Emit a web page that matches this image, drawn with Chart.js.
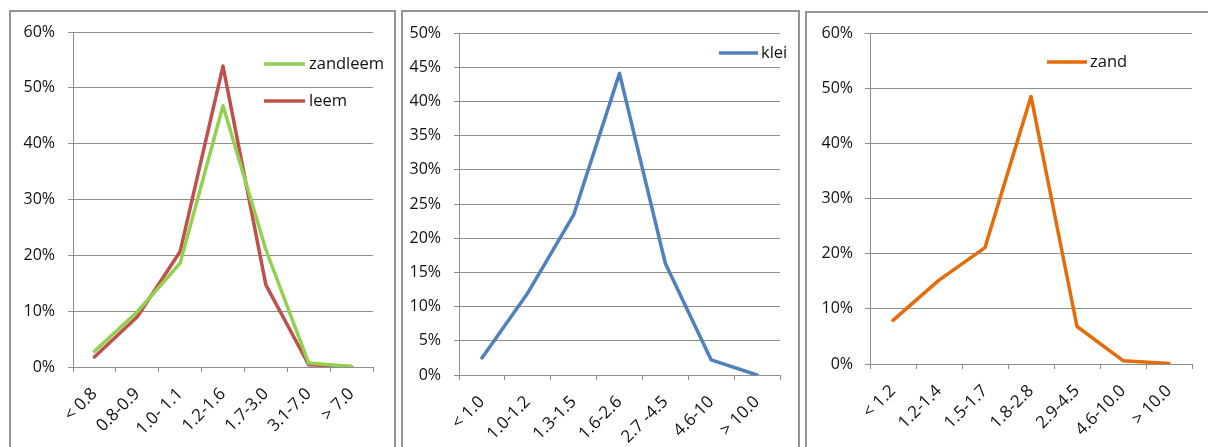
<!DOCTYPE html>
<html>
<head>
<meta charset="utf-8">
<script src="https://cdn.jsdelivr.net/npm/chart.js@4.4.1/dist/chart.umd.min.js"></script>
<style>
  html, body { margin: 0; padding: 0; background: #fff; }
  #wrap { position: relative; width: 1208px; height: 447px; overflow: hidden; }
  .frame { position: absolute; border: 2px solid #959595; box-sizing: border-box; }
  canvas { position: absolute; left: 0; top: 0; }
</style>
</head>
<body>
<div id="wrap">
  <div class="frame" style="left:9px;top:10px;width:387px;height:470px"></div>
  <div class="frame" style="left:401px;top:10px;width:399px;height:470px"></div>
  <div class="frame" style="left:805px;top:11px;width:420px;height:470px"></div>
  <canvas id="c1" width="1208" height="447"></canvas>
  <canvas id="c2" width="1208" height="447"></canvas>
  <canvas id="c3" width="1208" height="447"></canvas>
</div>
<script>
// Density classes (g/cm³) and share of samples per class, in percent
const loamClasses = ['< 0.8', '0.8-0.9', '1.0- 1.1', '1.2-1.6', '1.7-3.0', '3.1-7.0', '> 7.0'];
const zandleemPct = [2.8, 9.9, 18.6, 46.8, 21.0, 0.7, 0.1];
const leemPct     = [1.8, 9.0, 20.7, 53.9, 14.7, 0.4, 0.1];

const clayClasses = ['< 1.0', '1.0-1.2', '1.3-1.5', '1.6-2.6', '2.7 -4.5', '4.6-10', '> 10.0'];
const kleiPct     = [2.5, 12.0, 23.4, 44.1, 16.3, 2.2, 0.0];

const sandClasses = ['< 1.2', '1.2-1.4', '1.5-1.7', '1.8-2.8', '2.9-4.5', '4.6-10.0', '> 10.0'];
const zandPct     = [7.9, 15.2, 21.1, 48.5, 6.8, 0.6, 0.1];

// Value axis ranges (percent) for the three panels
const loamAxis = { max: 60, step: 10 };
const clayAxis = { max: 50, step: 5 };
const sandAxis = { max: 60, step: 10 };

const W = 1208, H = 447;
const GRID = '#8e8e8e';
const TEXT = '#111111';
const FAMILY = "'Open Sans', 'Liberation Sans', sans-serif";
const Y_FONT = { family: FAMILY, size: 16 };
const X_FONT = { family: FAMILY, size: 17 };
const LEGEND_FONT_SIZE = 16.5;

// Legend drawn inside the plot area: a short line sample followed by the series name
const insideLegend = {
  id: 'insideLegend',
  afterDatasetsDraw(chart, args, opts) {
    const ctx = chart.ctx;
    ctx.save();
    ctx.font = `${LEGEND_FONT_SIZE}px ${FAMILY}`;
    ctx.textBaseline = 'middle';
    ctx.textAlign = 'left';
    chart.data.datasets.forEach((ds, i) => {
      const y = opts.y + i * opts.rowGap;
      ctx.strokeStyle = ds.borderColor;
      ctx.lineWidth = 3.5;
      ctx.beginPath();
      ctx.moveTo(opts.x, y);
      ctx.lineTo(opts.x + opts.lineLen, y);
      ctx.stroke();
      ctx.fillStyle = TEXT;
      ctx.fillText(ds.label, opts.x + opts.lineLen + opts.gap, y);
    });
    ctx.restore();
  }
};

function makeChart(id, labels, series, area, axis, legend) {
  return new Chart(document.getElementById(id), {
    type: 'line',
    data: {
      labels: labels,
      datasets: series.map(s => ({
        label: s.label,
        data: s.data,
        borderColor: s.color,
        backgroundColor: s.color,
        borderWidth: 3.5,
        pointRadius: 0,
        pointHoverRadius: 0,
        tension: 0,
        fill: false,
        borderJoinStyle: 'round',
        borderCapStyle: 'round'
      }))
    },
    options: {
      responsive: false,
      animation: false,
      devicePixelRatio: 1,
      layout: { padding: { left: 0, right: W - area.right, top: area.top, bottom: 0 } },
      plugins: {
        legend: { display: false },
        tooltip: { enabled: false },
        insideLegend: legend
      },
      scales: {
        x: {
          offset: true,
          grid: { offset: true, drawOnChartArea: false, tickLength: 5, color: GRID },
          border: { color: GRID },
          ticks: { autoSkip: false, maxRotation: 45, minRotation: 45, padding: 12, font: X_FONT, color: TEXT },
          afterFit(scale) { scale.height = H - area.bottom; }
        },
        y: {
          min: 0,
          max: axis.max,
          grid: { color: GRID, tickLength: 5 },
          border: { color: GRID },
          ticks: { stepSize: axis.step, padding: area.labelGap, font: Y_FONT, color: TEXT,
                   callback: v => v + '%' },
          afterFit(scale) { scale.width = area.left; }
        }
      }
    },
    plugins: [insideLegend]
  });
}

makeChart('c1', loamClasses,
  [ { label: 'zandleem', data: zandleemPct, color: '#92D050' },
    { label: 'leem', data: leemPct, color: '#C0504D' } ],
  { left: 73, right: 373, top: 32, bottom: 367, labelGap: 13 }, loamAxis,
  { x: 264, y: 64, rowGap: 37, lineLen: 41, gap: 4 });

makeChart('c2', clayClasses,
  [ { label: 'klei', data: kleiPct, color: '#4F81BD' } ],
  { left: 459, right: 780, top: 33, bottom: 375, labelGap: 13 }, clayAxis,
  { x: 719, y: 53, rowGap: 37, lineLen: 39, gap: 3 });

makeChart('c3', sandClasses,
  [ { label: 'zand', data: zandPct, color: '#E46C0A' } ],
  { left: 870, right: 1192, top: 33, bottom: 364, labelGap: 12 }, sandAxis,
  { x: 1047, y: 62, rowGap: 37, lineLen: 40, gap: 3 });
</script>
</body>
</html>
